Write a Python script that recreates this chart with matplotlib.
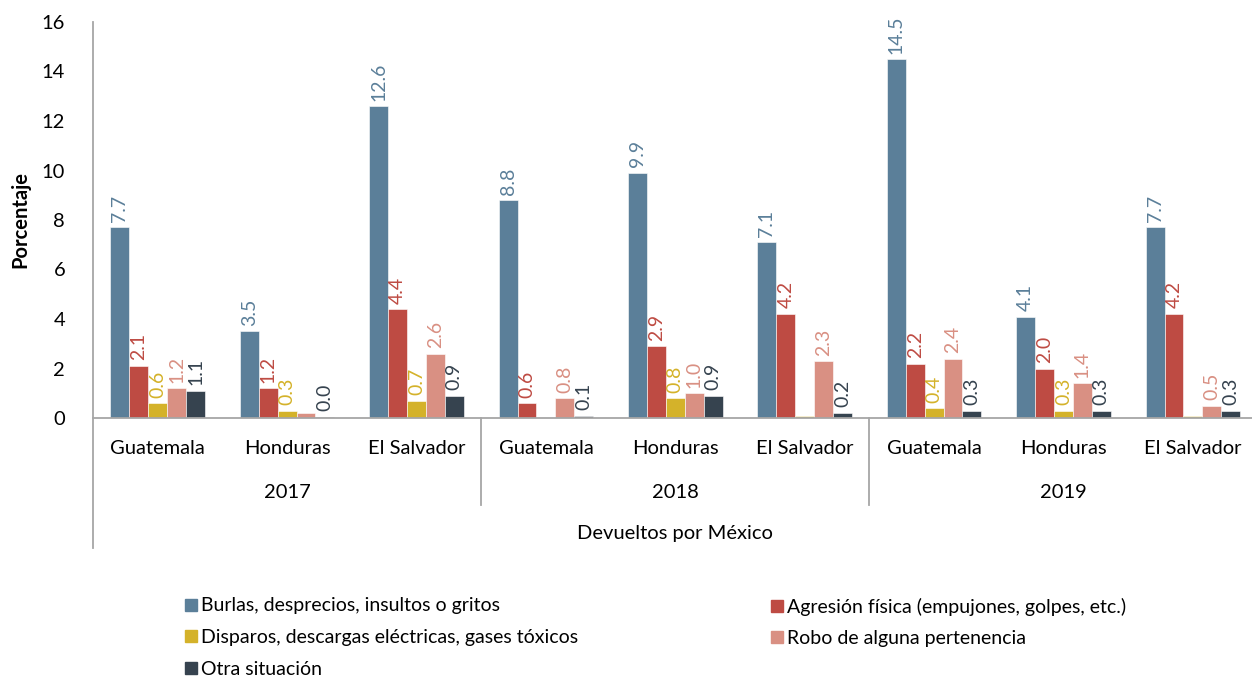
import numpy as np
import matplotlib
matplotlib.use("Agg")
import matplotlib.pyplot as plt
from matplotlib.lines import Line2D
import matplotlib.transforms as mtransforms

plt.rcParams['font.family'] = ['Lato', 'DejaVu Sans']

# data
countries = ["Guatemala", "Honduras", "El Salvador"] * 3
years = ["2017", "2018", "2019"]
series_names = ["Burlas, desprecios, insultos o gritos",
                "Agresión física (empujones, golpes, etc.)",
                "Disparos, descargas eléctricas, gases tóxicos",
                "Robo de alguna pertenencia",
                "Otra situación"]
burlas = [7.7, 3.5, 12.6, 8.8, 9.9, 7.1, 14.5, 4.1, 7.7]
agresion = [2.1, 1.2, 4.4, 0.6, 2.9, 4.2, 2.2, 2.0, 4.2]
disparos = [0.6, 0.3, 0.7, 0.0, 0.8, 0.1, 0.4, 0.3, 0.1]
robo = [1.2, 0.2, 2.6, 0.8, 1.0, 2.3, 2.4, 1.4, 0.5]
otra = [1.1, 0.04, 0.9, 0.1, 0.9, 0.2, 0.3, 0.3, 0.3]
# (series index, category index) of values shown without a label
no_label = {(2, 3), (2, 5), (2, 8), (3, 1)}

colors = ["#5B7F99", "#BE4B43", "#D4B22A", "#D99083", "#36434F"]
gray = "#A6A6A6"

series = [burlas, agresion, disparos, robo, otra]

fig = plt.figure(figsize=(12.52, 6.83), dpi=100)
ax = fig.add_axes([93/1252, 1-418/683, 1159/1252, 396/683])

x = np.arange(len(countries))
w = 0.146
for i, (vals, col) in enumerate(zip(series, colors)):
    pos = x + (i - 2) * w
    ax.bar(pos, vals, w, color=col, edgecolor="white", linewidth=0.4)
    for j, (p, v) in enumerate(zip(pos, vals)):
        if (i, j) in no_label:
            continue
        ax.annotate(f"{v:.1f}", (p, v), xytext=(0, 4), textcoords="offset points",
                    rotation=90, ha="center", va="bottom", color=col, fontsize=14)

ax.set_xlim(-0.5, -0.5 + 1159/129.4)
ax.set_ylim(0, 16)
ax.set_yticks(range(0, 17, 2))
ax.tick_params(axis="y", length=0, pad=20, labelsize=14.5)
ax.set_xticks([])
for s in ["top", "right"]:
    ax.spines[s].set_visible(False)
ax.spines["left"].set_visible(False)
ax.spines["bottom"].set_color(gray)
ax.spines["bottom"].set_linewidth(1.3)
ax.set_ylabel("Porcentaje", fontsize=14.5, fontweight="bold", labelpad=8)

# multi-level category axis
trans = mtransforms.blended_transform_factory(ax.transData, ax.transAxes)
px = 1 / 396
ax.plot([-0.5, -0.5], [1, -130*px], color=gray, lw=1.3, transform=trans, clip_on=False)
for b in [2.5, 5.5, 8.5]:
    ax.plot([b, b], [0, -87*px], color=gray, lw=1.3, transform=trans, clip_on=False)
for xi, c in zip(x, countries):
    ax.text(xi, -30*px, c, transform=trans, ha="center", va="center", fontsize=14.5)
for k, yr in enumerate(years):
    ax.text(3*k + 1, -74*px, yr, transform=trans, ha="center", va="center", fontsize=14.5)
ax.text(4.0, -115*px, "Devueltos por México", transform=trans, ha="center", va="center", fontsize=14.5)

# legend, laid out row-wise in two columns
handles = [Line2D([], [], marker="s", ls="", color=c, markersize=9) for c in colors]
leg_kw = dict(loc="upper left", frameon=False, fontsize=14, handletextpad=0.0,
              labelspacing=0.75, handlelength=1.0)
fig.legend([handles[0], handles[2], handles[4]],
           [series_names[0], series_names[2], series_names[4]],
           bbox_to_anchor=(164/1252, 1-580/683), **leg_kw)
fig.legend([handles[1], handles[3]],
           [series_names[1], series_names[3]],
           bbox_to_anchor=(750/1252, 1-580/683), **leg_kw)

fig.savefig("out.png", dpi=100)
